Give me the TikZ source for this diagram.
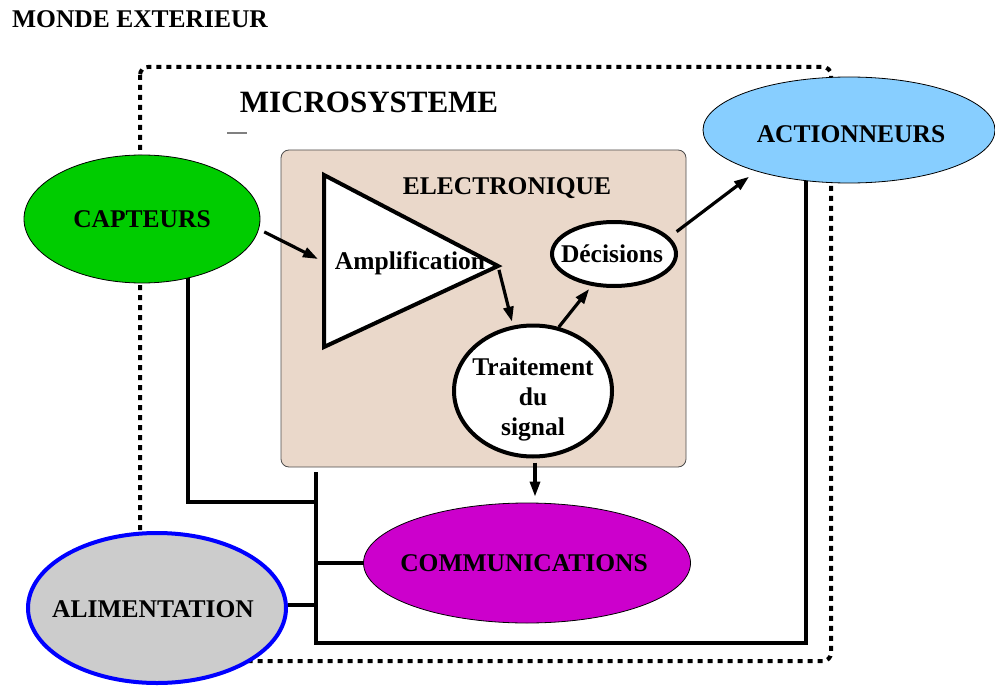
\documentclass[tikz,border=0pt]{standalone}
\usepackage{fontspec}
\setmainfont{Liberation Serif}
\usetikzlibrary{shapes.geometric,arrows.meta}
\definecolor{capg}{RGB}{0,204,0}
\definecolor{actb}{RGB}{135,206,255}
\definecolor{comm}{RGB}{204,0,204}
\definecolor{alimg}{RGB}{204,204,204}
\definecolor{elec}{RGB}{234,216,202}
\begin{document}
\begin{tikzpicture}[x=1pt,y=-1pt,
  lbl/.style={font=\bfseries\fontsize{25.5}{30}\selectfont, align=center, inner sep=0pt},
  wire/.style={line width=3.2pt},
  arr/.style={line width=3.2pt, -{Triangle[length=15pt,width=10pt]}},
  ell/.style={ellipse, draw, line width=0.8pt, inner sep=0pt},
  thickell/.style={ellipse, draw, line width=4pt, fill=white, inner sep=0pt},
  border/.style={line width=4pt, dash pattern=on 5pt off 5pt, rounded corners=8pt}]
\useasboundingbox (0,0) rectangle (995,687);

% outer dotted frame
\draw[border] (140,67) rectangle (831,661);

% bus wires
\coordinate (bustop) at (316,472);
\coordinate (busbot) at (316,643);
\coordinate (capbend) at (188,502);
\coordinate (actcorner) at (806,643);
\coordinate (actup) at (806,175);
\coordinate (capdown) at (188,270);
\coordinate (capjoin) at (316,502);
\coordinate (commjoin) at (316,563);
\coordinate (alimjoin) at (316,605);
\draw[wire] (bustop) -- (busbot) -- (actcorner) -- (actup);
\draw[wire] (capdown) -- (capbend) -- (capjoin);

% electronique box
\draw[draw=black!70, line width=0.8pt, fill=elec, rounded corners=8pt] (281,150) rectangle (686,467);
\node[lbl] (elecl) at (507,188) {ELECTRONIQUE};

% ellipses
\node[ell, fill=capg, minimum width=236pt, minimum height=128pt] (capteurs) at (142,219) {};
\node[lbl] at (capteurs.center) {CAPTEURS};
\node[ell, fill=actb, minimum width=292pt, minimum height=106pt] (actionneurs) at (849,130) {};
\node[lbl] at (851,134) {ACTIONNEURS};
\node[ell, fill=comm, minimum width=327pt, minimum height=120pt] (comm) at (527,563) {};
\node[lbl] at (524,563) {COMMUNICATIONS};
\node[ellipse, draw=blue, line width=4pt, fill=alimg, inner sep=0pt, minimum width=258pt, minimum height=150pt] (alim) at (157,608) {};
\node[lbl] at (153,609) {ALIMENTATION};

\draw[wire] (comm.west) -- (commjoin);
\draw[wire] (alim.east |- alimjoin) -- (alimjoin);

% amplifier triangle
\coordinate (tA) at (324,175);
\coordinate (tB) at (324,347);
\coordinate (tC) at (498,266);
\draw[line width=4pt, fill=white, line join=miter] (tA) -- (tC) -- (tB) -- cycle;
\node[lbl] (amp) at (410,263) {Amplification};
\coordinate (ampin) at (318,259);

% inner ellipses
\node[thickell, minimum width=124pt, minimum height=64pt] (decisions) at (614,254) {};
\node[lbl] at (612,254) {Décisions};
\node[thickell, minimum width=158pt, minimum height=131pt] (traitement) at (533,391) {};
\node[lbl] at (533,399) {Traitement\\du\\signal};

% arrows
\draw[arr, shorten <=6pt] (capteurs.-5) -- (ampin);
\draw[arr, shorten <=4pt, shorten >=4pt] (tC) -- (traitement.107);
\draw[arr, shorten >=4pt] (traitement.68) -- (decisions.-125);
\draw[arr, shorten <=9pt, shorten >=9pt] (decisions.17) -- (actionneurs.-156);
\draw[arr, shorten <=4pt, shorten >=6pt] (traitement.south -| 535,0) -- (comm.north -| 535,0);

% titles
\node[lbl] (monde) at (140,19) {MONDE EXTERIEUR};
\node[font=\bfseries\fontsize{31}{36}\selectfont, inner sep=0pt] (micro) at (369,102) {MICROSYSTEME};
\draw[gray, line width=1.2pt] (227,133) -- (247,133);
\end{tikzpicture}
\end{document}
